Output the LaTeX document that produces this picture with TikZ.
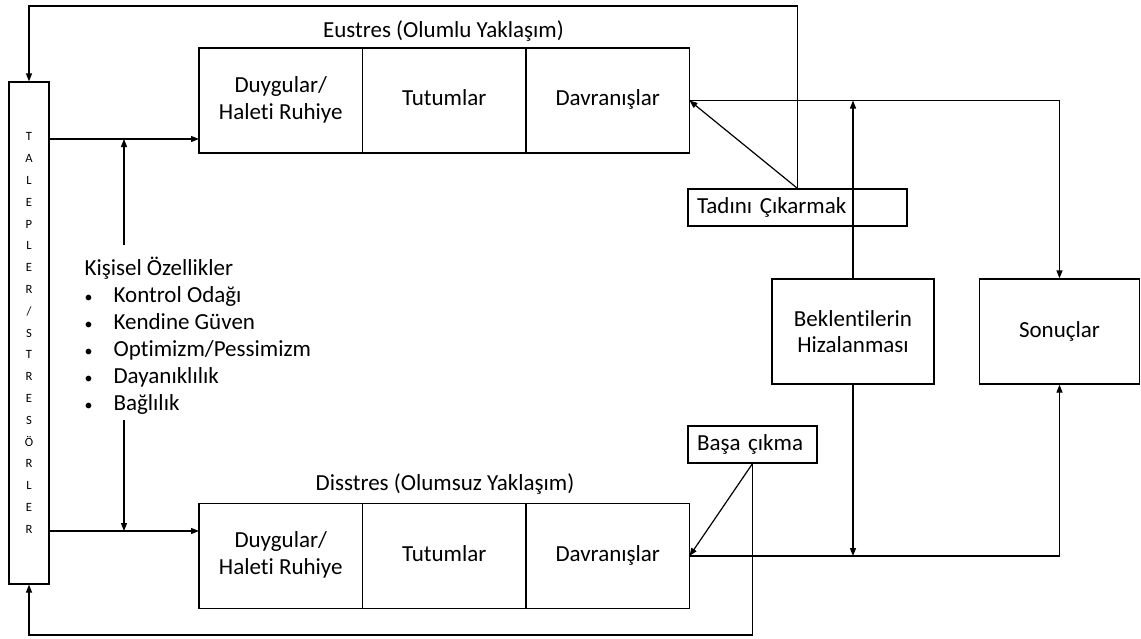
\documentclass[tikz,border=0pt]{standalone}
\usepackage{fontspec}
\setmainfont{Carlito}[Ligatures=NoCommon]
\usetikzlibrary{arrows.meta, positioning}

\begin{document}
\begin{tikzpicture}[x=0.5pt, y=-0.5pt, line width=0.6pt,
  every node/.style={font=\fontsize{11.5}{13.4}\selectfont},
  arr/.style={-{Triangle[length=4pt, width=3pt]}},
  cell/.style={draw, minimum width=81.75pt, minimum height=52.5pt, align=center, inner sep=0pt, outer sep=0pt},
  tag/.style={draw, minimum height=18.5pt, inner xsep=4.5pt, inner ysep=0pt, align=left}]
  \useasboundingbox (0,0) rectangle (1141,638);

  % Coordinates
  \coordinate (A1) at (124,139);
  \coordinate (A2) at (124,531);
  \coordinate (K1) at (124,245);
  \coordinate (K2) at (124,420);
  \coordinate (TR) at (797.5,6);
  \coordinate (BR) at (752.5,635);

  % Demands column
  \node[draw, minimum width=20pt, minimum height=251pt, inner sep=0pt, align=center,
        font=\fontsize{6.3}{10.9}\selectfont] (tal) at (29,333)
    {T\\A\\L\\E\\P\\L\\E\\R\\/\\S\\T\\R\\E\\S\\Ö\\R\\L\\E\\R};

  % Eustres row
  \node[cell] (eu1) at (280.75,100.5) {\strut Duygular/\\\strut Haleti Ruhiye};
  \node[cell, right=0pt of eu1] (eu2) {\strut Tutumlar};
  \node[cell, right=0pt of eu2] (eu3) {\strut Davranışlar};
  \node (eul) at (443.5,31) {Eustres (Olumlu Yaklaşım)};

  % Disstres row
  \node[cell] (dis1) at (280.75,556) {\strut Duygular/\\\strut Haleti Ruhiye};
  \node[cell, right=0pt of dis1] (dis2) {\strut Tutumlar};
  \node[cell, right=0pt of dis2] (dis3) {\strut Davranışlar};
  \node (disl) at (445,484) {Disstres (Olumsuz Yaklaşım)};

  % Personal traits
  \node[anchor=north west, align=left, inner sep=0pt,
        font=\fontsize{11.5}{13.5}\selectfont] (kis) at (84,256)
    {Kişisel Özellikler\\
     \makebox[14.5pt][l]{\footnotesize\textbullet}Kontrol Odağı\\
     \makebox[14.5pt][l]{\footnotesize\textbullet}Kendine Güven\\
     \makebox[14.5pt][l]{\footnotesize\textbullet}Optimizm/Pessimizm\\
     \makebox[14.5pt][l]{\footnotesize\textbullet}Dayanıklılık\\
     \makebox[14.5pt][l]{\footnotesize\textbullet}Bağlılık};

  % Right side
  \node[tag, text width=100.5pt] (tad) at (797.5,207.5) {Tadını Çıkarmak};
  \node[tag, text width=55.5pt] (bas) at (752.5,444.5) {Başa çıkma};
  \node[draw, minimum width=81pt, minimum height=52.5pt, align=center] (bek) at (853,331.5)
    {Beklentilerin\\Hizalanması};
  \node[draw, minimum width=80pt, minimum height=52.5pt] (son) at (1059.5,331.5) {Sonuçlar};

  % Connectors
  \draw[arr] (tal.east |- A1) -- (eu1.west |- A1);
  \draw[arr] (K1) -- (A1);
  \draw[arr] (tal.east |- A2) -- (dis1.west |- A2);
  \draw[arr] (K2) -- (A2);
  \draw[arr] (eu3.east) -| (son.north);
  \draw[arr] (bek.north) -- (bek.north |- eu3.east);
  \draw[arr] (tad.north) -- (eu3.east);
  \draw[arr] (tad.north) -- (TR) -| (tal.north);
  \draw[arr] (dis3.east) -| (son.south);
  \draw[arr] (bek.south) -- (bek.south |- dis3.east);
  \draw[arr] (bas.south) -- (dis3.east);
  \draw[arr] (bas.south) -- (BR) -| (tal.south);
\end{tikzpicture}
\end{document}
